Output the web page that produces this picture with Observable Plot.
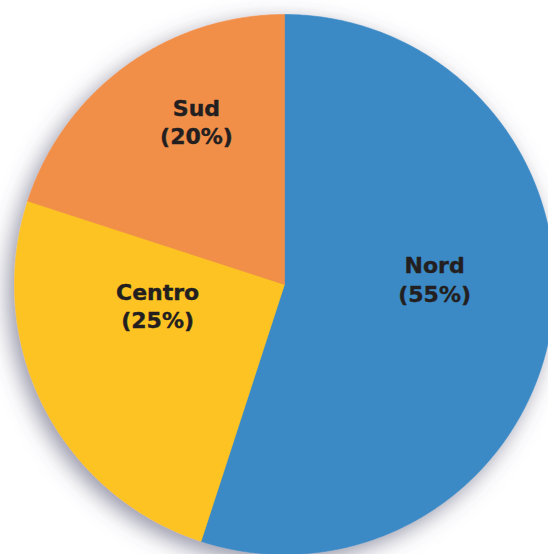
<!DOCTYPE html>
<html>
<head>
<meta charset="utf-8">
<script src="https://cdn.jsdelivr.net/npm/d3@7"></script>
<script src="https://cdn.jsdelivr.net/npm/@observablehq/plot@0.6"></script>
<style>
  html, body { margin: 0; padding: 0; background: #ffffff; overflow: hidden; }
  #chart { width: 548px; height: 554px; }
</style>
</head>
<body>
<div id="chart"></div>
<script>
// Data
const categories = ["Nord", "Centro", "Sud"];
const shares = [55, 25, 20];
const labels = ["Nord\n(55%)", "Centro\n(25%)", "Sud\n(20%)"];
const colors = ["#3a8ac6", "#fdc322", "#f18f48"];

// Label anchors in unit-circle coordinates (layout, not data)
const labelAt = {
  Nord: [0.556, -0.022],
  Centro: [-0.470, 0.075],
  Sud: [-0.326, -0.604]
};

// Build slice polygons from d3.pie angles (clockwise from 12 o'clock)
const pie = d3.pie().sort(null).value(d => d.value)(
  categories.map((c, i) => ({ cat: c, value: shares[i] }))
);
const slicePts = [];
for (const a of pie) {
  const cat = a.data.cat;
  slicePts.push({ cat, x: 0, y: 0 });
  const steps = Math.max(8, Math.ceil((a.endAngle - a.startAngle) / (Math.PI / 360)));
  for (let k = 0; k <= steps; k++) {
    const t = a.startAngle + (a.endAngle - a.startAngle) * k / steps;
    slicePts.push({ cat, x: Math.sin(t), y: -Math.cos(t) });
  }
  slicePts.push({ cat, x: 0, y: 0 });
}
const labelData = categories.map((c, i) => ({
  cat: c, text: labels[i], x: labelAt[c][0], y: labelAt[c][1]
}));

const W = 548, H = 554, R = 270, CX = 284, CY = 284;

const plot = Plot.plot({
  width: W,
  height: H,
  margin: 0,
  style: { background: "transparent", overflow: "visible" },
  x: { type: "linear", domain: [-1, 1], range: [CX - R, CX + R], axis: null },
  y: { type: "linear", domain: [-1, 1], range: [CY - R, CY + R], axis: null },
  color: { domain: categories, range: colors },
  marks: [
    Plot.line(slicePts, {
      x: "x", y: "y", z: "cat",
      fill: "cat", stroke: "cat", strokeWidth: 0.6,
      curve: "linear"
    }),
    Plot.text(labelData, {
      x: "x", y: "y", text: "text",
      fontFamily: "DejaVu Sans", fontWeight: "bold", fontSize: 22,
      lineHeight: 1.28, lineAnchor: "middle", textAnchor: "middle",
      fill: "#231f20", stroke: "#231f20", strokeWidth: 0.4
    })
  ]
});

// soft drop shadow under the pie
const svg = d3.select(plot);
const defs = svg.insert("defs", ":first-child");
const f = defs.append("filter").attr("id", "pieShadow")
  .attr("x", "-25%").attr("y", "-25%").attr("width", "150%").attr("height", "150%");
f.append("feDropShadow").attr("dx", -6).attr("dy", 7).attr("stdDeviation", 11)
  .attr("flood-color", "#50506e").attr("flood-opacity", 0.6);
svg.select('g[aria-label="line"]').attr("filter", "url(#pieShadow)");

document.getElementById("chart").appendChild(plot);
</script>
</body>
</html>
